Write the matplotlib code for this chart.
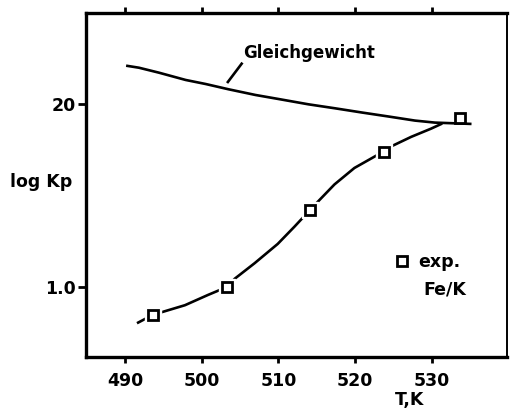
import matplotlib
matplotlib.use("Agg")
import matplotlib.pyplot as plt

# Gleichgewicht (equilibrium) curve
eq_T = [490.3, 491.8, 494.4, 497.9, 500.5, 503.5, 507.0, 510.0, 513.9,
        517.4, 520.9, 524.4, 527.8, 530.4, 535.0]
eq_logkp = [2.208, 2.198, 2.171, 2.131, 2.109, 2.080, 2.049, 2.027, 1.998,
            1.976, 1.953, 1.931, 1.909, 1.898, 1.891]

# experimental points (Fe/K)
exp_T = [493.6, 503.3, 514.1, 523.7, 533.7]
exp_logkp = [0.847, 1.0, 1.42, 1.74, 1.925]

# hand-drawn curve through the experimental points
fit_T = [491.7, 493.6, 494.3, 497.8, 500.8, 503.3, 504.3, 506.9, 509.9,
         512.1, 514.1, 515.0, 517.3, 519.9, 523.7, 524.9, 527.3, 529.9, 531.2]
fit_logkp = [0.805, 0.847, 0.856, 0.90, 0.956, 1.0, 1.045, 1.13, 1.235,
             1.33, 1.42, 1.46, 1.56, 1.65, 1.74, 1.772, 1.82, 1.865, 1.89]

x_ticks = [490, 500, 510, 520, 530]
y_ticks = [1.0, 2.0]
y_tick_labels = ["1.0", "20"]

plt.rcParams["font.family"] = "DejaVu Sans"
plt.rcParams["font.weight"] = "bold"

fig = plt.figure(figsize=(5.11, 4.08), dpi=100)
ax = fig.add_axes([86 / 511, 1 - 357 / 408, (507 - 86) / 511, (357 - 13) / 408])

lw = 1.9
ax.plot(fit_T, fit_logkp, color="black", lw=lw, zorder=2)
# white halo so the curve breaks around each square, as in the original
ax.plot(exp_T, exp_logkp, ls="none", marker="s", ms=12, mfc="white",
        mec="white", zorder=3)
ax.plot(eq_T, eq_logkp, color="black", lw=lw, zorder=4)
pts, = ax.plot(exp_T, exp_logkp, ls="none", marker="s", ms=7.5, mfc="white",
               mec="black", mew=2, zorder=5)

# label of the equilibrium line with its leader
ax.plot([503.4, 505.2], [2.12, 2.22], color="black", lw=lw)
ax.text(505.4, 2.28, "Gleichgewicht", fontsize=12, fontweight="bold",
        ha="left", va="center")

ax.legend([pts], ["exp."], loc="center left", bbox_to_anchor=(0.735, 0.277),
          frameon=False, handlelength=0.8, handletextpad=0.5, fontsize=12.5,
          borderpad=0, borderaxespad=0)
ax.text(0.903, 0.195, "Fe/K", transform=ax.transAxes, fontsize=12.5,
        fontweight="bold", ha="right", va="center")

ax.set_xlim(484.9, 539.8)
ax.set_ylim(0.617, 2.497)
ax.set_xticks(x_ticks)
ax.set_yticks(y_ticks)
ax.set_yticklabels(y_tick_labels)
ax.tick_params(axis="x", which="both", direction="out", length=4, width=2,
               pad=7, labelsize=12.5, top=True)
ax.tick_params(axis="y", direction="out", length=6, width=2, pad=1,
               labelsize=12.5)

for side in ["left", "bottom", "top"]:
    ax.spines[side].set_linewidth(2.4)
ax.spines["right"].set_linewidth(1.4)

fig.text(10 / 511, 1 - 182 / 408, "log Kp", fontsize=12.5, fontweight="bold",
         ha="left", va="center")
fig.text(410 / 511, 1 - 400 / 408, "T,K", fontsize=12.5, fontweight="bold",
         ha="center", va="center")

fig.savefig("out.png", dpi=100)
